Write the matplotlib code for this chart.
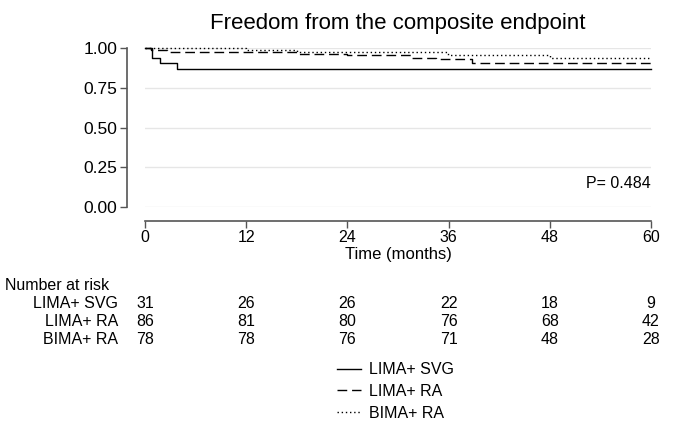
import matplotlib
matplotlib.use("Agg")
import matplotlib.pyplot as plt
import matplotlib.transforms as mtransforms
from matplotlib.lines import Line2D

plt.rcParams['font.family'] = ['Liberation Sans', 'DejaVu Sans']

# Kaplan-Meier step data (months, survival)
svg_t = [0, 0.8, 1.8, 3.8, 60]
svg_s = [1.0, 0.935, 0.903, 0.871, 0.871]
ra_t = [0, 0.7, 2.6, 18.0, 24.0, 31.5, 34.5, 38.8, 60]
ra_s = [1.0, 0.988, 0.976, 0.965, 0.953, 0.940, 0.928, 0.905, 0.905]
bima_t = [0, 12.0, 18.0, 35.9, 48.0, 60]
bima_s = [1.0, 0.990, 0.975, 0.958, 0.940, 0.940]

groups = ["LIMA+ SVG", "LIMA+ RA", "BIMA+ RA"]
risk_times = [0, 12, 24, 36, 48, 60]
risk_counts = [
    [31, 26, 26, 22, 18, 9],
    [86, 81, 80, 76, 68, 42],
    [78, 78, 76, 71, 48, 28],
]
p_text = "P= 0.484"

W, H = 673, 421
FS = 11.5
fig = plt.figure(figsize=(W / 100, H / 100), dpi=100)
ax = fig.add_axes([145 / W, 1 - 207 / H, (651 - 145) / W, (207 - 48) / H])

axis_col = "#555555"
dash = (0, (7, 3.5))
dot = (0, (1, 2))
ax.plot(svg_t, svg_s, drawstyle="steps-post", color="black", lw=1.0,
        ls="-", clip_on=False)
ax.plot(ra_t, ra_s, drawstyle="steps-post", color="black", lw=1.0,
        ls=dash, clip_on=False)
ax.plot(bima_t, bima_s, drawstyle="steps-post", color="black", lw=1.0,
        ls=dot, clip_on=False)

ax.set_xlim(0, 60)
ax.set_ylim(0, 1)
ax.set_xticks(risk_times)
ax.set_yticks([0, 0.25, 0.5, 0.75, 1.0])
ax.set_yticklabels(["0.00", "0.25", "0.50", "0.75", "1.00"])
ax.yaxis.grid(True, color="#e6e6e6", lw=1.0)
ax.set_axisbelow(True)
for s in ("top", "right"):
    ax.spines[s].set_visible(False)
ax.spines["left"].set_position(("outward", 13))
ax.spines["bottom"].set_position(("outward", 10))
for s in ("left", "bottom"):
    ax.spines[s].set_color(axis_col)
    ax.spines[s].set_linewidth(1.2)
ax.tick_params(axis="y", colors=axis_col, labelcolor="black", length=5,
               width=1.0, labelsize=12.5, pad=2)
ax.tick_params(axis="x", colors=axis_col, labelcolor="black", length=5,
               width=1.0, labelsize=FS, pad=1.5)
ax.set_xlabel("Time (months)", fontsize=12, labelpad=1.5)
ax.set_title("Freedom from the composite endpoint", fontsize=16, pad=14)

ax.text(60, 0.15, p_text, ha="right", va="center", fontsize=FS)

# number at risk table
trans = mtransforms.blended_transform_factory(ax.transData, fig.transFigure)
fig.text(5 / W, 1 - 286 / H, "Number at risk", ha="left", va="center",
         fontsize=FS)
for i, (g, counts) in enumerate(zip(groups, risk_counts)):
    y = 1 - (304 + 18 * i) / H
    fig.text(118 / W, y, g, ha="right", va="center", fontsize=FS)
    for t, c in zip(risk_times, counts):
        ax.text(t, y, str(c), transform=trans, ha="center", va="center",
                fontsize=FS)

# legend
handles = [
    Line2D([], [], color="black", lw=1.0, ls="-"),
    Line2D([], [], color="black", lw=1.0, ls=dash),
    Line2D([], [], color="black", lw=1.0, ls=dot),
]
fig.legend(handles, groups, loc="upper left",
           bbox_to_anchor=(323 / W, 1 - 348 / H), frameon=False,
           fontsize=FS, handlelength=1.45, handletextpad=0.55,
           labelspacing=0.42)

fig.savefig("out.png", dpi=100)
